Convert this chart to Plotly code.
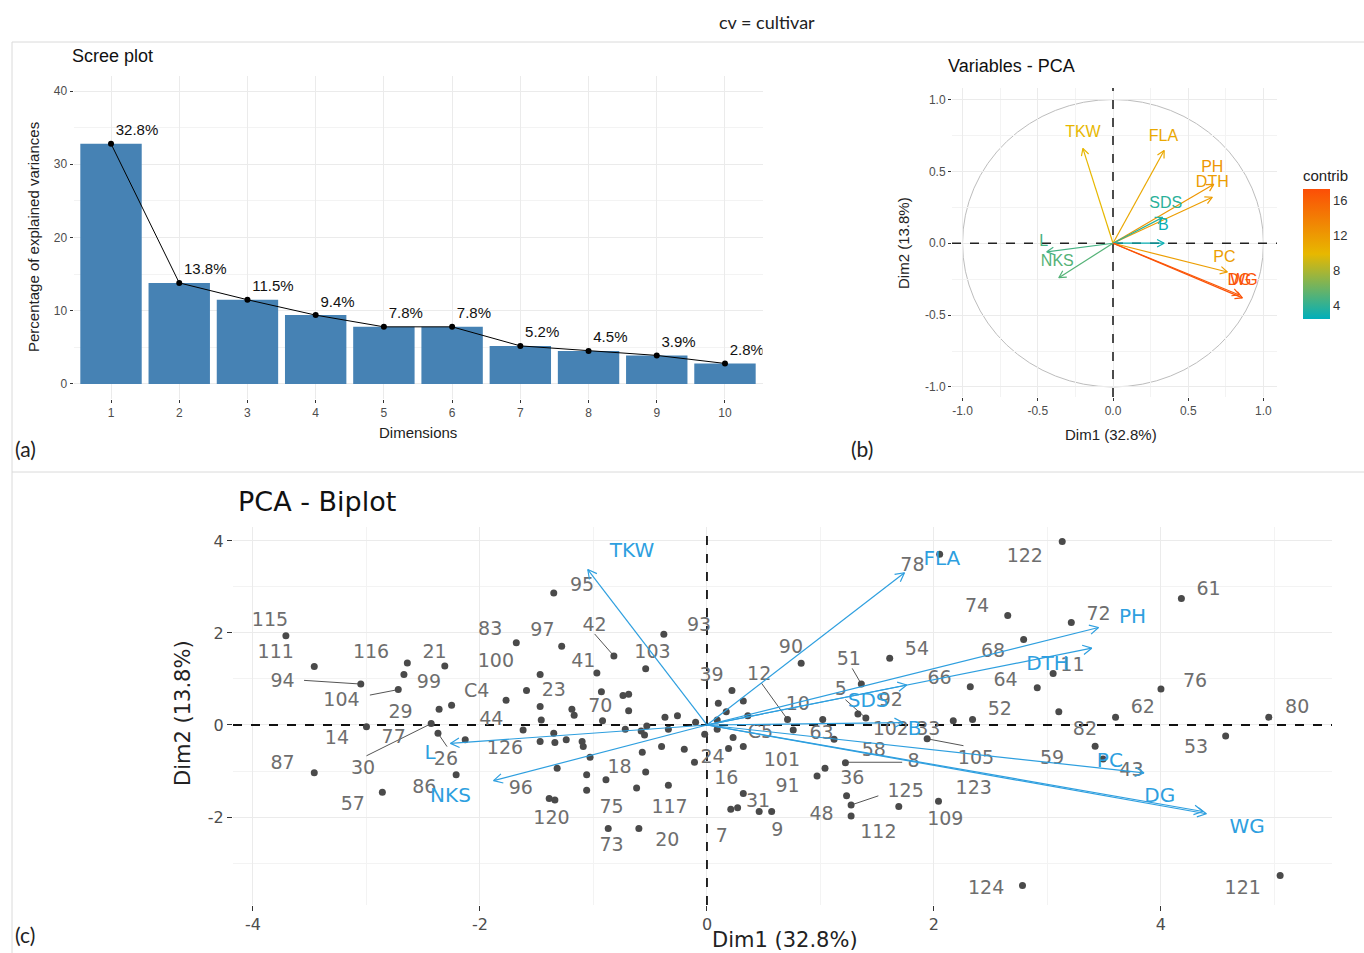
import math
import plotly.graph_objects as go
from plotly.colors import sample_colorscale

# ---------------- data ----------------
scree_dims = [1, 2, 3, 4, 5, 6, 7, 8, 9, 10]
scree_vals = [32.8, 13.8, 11.5, 9.4, 7.8, 7.8, 5.2, 4.5, 3.9, 2.8]

var_names = ["TKW", "FLA", "PH", "DTH", "SDS", "B", "L", "NKS", "PC", "DG", "WG"]
var_x = [-0.20, 0.34, 0.67, 0.66, 0.33, 0.34, -0.44, -0.36, 0.76, 0.84, 0.86]
var_y = [0.66, 0.645, 0.41, 0.32, 0.18, 0.0, -0.06, -0.24, -0.20, -0.36, -0.38]
var_contrib = [10.0, 11.0, 12.3, 11.8, 3.8, 2.8, 4.7, 5.2, 11.7, 16.5, 17.0]
var_lab_x = [-0.20, 0.335, 0.66, 0.66, 0.35, 0.335, -0.46, -0.37, 0.74, 0.84, 0.87]
var_lab_y = [0.77, 0.74, 0.52, 0.42, 0.27, 0.12, 0.01, -0.13, -0.10, -0.26, -0.26]

bi_var_x = [-1.05, 1.74, 3.45, 3.39, 1.76, 1.73, -2.26, -1.88, 3.85, 4.37, 4.40]
bi_var_y = [3.38, 3.31, 2.12, 1.67, 0.87, 0.05, -0.40, -1.21, -1.04, -1.88, -1.93]
bi_var_lab_x = [-0.66, 2.07, 3.75, 3.00, 1.42, 1.83, -2.44, -2.26, 3.55, 3.99, 4.76]
bi_var_lab_y = [3.76, 3.59, 2.33, 1.30, 0.50, -0.11, -0.62, -1.57, -0.80, -1.57, -2.24]

ind_x = [-3.71, -3.46, -3.05, -2.64, -2.31, -2.67, -2.72, -2.36, -2.25, -1.77,
         -1.68, -1.28, -1.35, -0.82, -0.54, -0.38, -1.47, -0.97, -1.59, -1.47,
         -0.93, -1.19, -1.17, -0.92, -0.74, -0.69, -0.69, -1.46, -0.37, -0.26,
         -0.10, -0.53, -0.72, -3.00, -2.43, -2.37, -2.13, -3.46, -2.86, -2.21,
         -1.62, -1.47, -1.35, -1.34, -1.24, -1.10, -1.09, -1.03, -1.32, -1.06,
         -0.89, -1.06, -1.39, -1.34, -0.62, -0.34, -0.54, -0.57, -0.40, -0.20,
         -0.11, -0.87, -0.60, -0.02, -0.34, -0.55, -0.58, 0.10, 0.22, 0.32,
         0.17, 0.09, 0.36, 0.09, 0.23, 0.19, 0.32, 0.83, 0.71, 0.76,
         1.02, 1.12, 1.22, 1.04, 0.97, 1.23, 1.27, 1.27, 1.36, 1.33,
         1.40, 1.61, 2.32, 2.17, 2.34, 1.94, 1.69, 2.04, 0.32, 0.21,
         0.27, 0.46, 0.57, 3.13, 2.05, 4.18, 2.65, 3.21, 2.79, 3.05,
         2.91, 4.00, 3.10, 3.60, 4.95, 4.57, 3.42, 3.49, 2.78, 5.05]
ind_y = [1.94, 1.27, 0.89, 1.35, 1.28, 1.10, 0.77, 0.34, 0.43, 0.54,
         1.79, 1.71, 2.87, 1.50, 1.22, 1.97, 1.10, 1.13, 0.75, 0.40,
         0.72, 0.34, 0.21, 0.09, 0.64, 0.67, 0.31, 0.11, 0.17, 0.20,
         0.06, -0.02, -0.09, -0.04, 0.03, -0.18, -0.32, -1.04, -1.46, -1.08,
         -0.11, -0.36, -0.18, -0.38, -0.32, -0.36, -0.47, -0.70, -0.94, -1.08,
         -1.19, -1.42, -1.60, -1.63, -1.37, -1.31, -1.02, -0.59, -0.47, -0.53,
         -0.81, -2.25, -2.25, -0.20, -0.09, -0.22, -0.13, 0.47, 0.75, 0.52,
         0.29, 0.11, 0.20, -0.09, -0.27, -0.51, -0.47, 1.34, 0.12, -0.11,
         0.12, -0.31, -0.82, -0.94, -1.11, -1.54, -1.74, -1.98, 0.89, 0.24,
         0.15, 1.45, 0.83, 0.09, 0.12, -0.30, -1.77, -1.66, -1.49, -1.83,
         -1.80, -1.88, -1.88, 3.99, 3.71, 2.75, 2.38, 2.23, 1.86, 1.12,
         0.81, 0.78, 0.29, 0.17, 0.17, -0.24, -0.46, -0.74, -3.49, -3.27]

ind_lab = ["115", "111", "94", "116", "21", "104", "99", "C4", "29", "44",
           "83", "97", "42", "95", "100", "41", "23", "70", "103", "93",
           "39", "14", "77", "87", "30", "26", "126", "86", "57", "96",
           "120", "18", "75", "117", "73", "20", "24", "16", "7", "C5",
           "63", "101", "91", "31", "9", "48", "58", "8", "36", "125",
           "112", "123", "109", "105", "59", "43", "82", "53", "124", "121",
           "102", "33", "78", "122", "61", "74", "72", "68", "54", "90",
           "51", "11", "66", "64", "76", "52", "62", "80", "12", "10",
           "5", "92"]
ind_lab_x = [-3.85, -3.80, -3.74, -2.96, -2.40, -3.22, -2.45, -2.03, -2.70, -1.90,
             -1.91, -1.45, -0.99, -1.10, -1.86, -1.09, -1.35, -0.94, -0.48, -0.07,
             0.04, -3.26, -2.76, -3.74, -3.03, -2.30, -1.78, -2.49, -3.12, -1.64,
             -1.37, -0.77, -0.84, -0.33, -0.84, -0.35, 0.05, 0.17, 0.13, 0.47,
             1.01, 0.66, 0.71, 0.45, 0.62, 1.01, 1.47, 1.82, 1.28, 1.75,
             1.51, 2.35, 2.10, 2.37, 3.04, 3.74, 3.33, 4.31, 2.46, 4.72,
             1.62, 1.95, 1.81, 2.80, 4.42, 2.38, 3.45, 2.52, 1.85, 0.74,
             1.25, 3.22, 2.05, 2.63, 4.30, 2.58, 3.84, 5.20, 0.46, 0.80,
             1.18, 1.62]
ind_lab_y = [2.26, 1.56, 0.93, 1.57, 1.57, 0.51, 0.90, 0.72, 0.25, 0.11,
             2.06, 2.03, 2.15, 3.02, 1.37, 1.37, 0.74, 0.38, 1.56, 2.15,
             1.06, -0.32, -0.29, -0.86, -0.96, -0.76, -0.53, -1.37, -1.75, -1.40,
             -2.04, -0.94, -1.82, -1.82, -2.63, -2.52, -0.72, -1.19, -2.45, -0.18,
             -0.21, -0.79, -1.36, -1.68, -2.32, -1.96, -0.57, -0.82, -1.19, -1.46,
             -2.36, -1.39, -2.07, -0.74, -0.74, -1.00, -0.11, -0.50, -3.57, -3.57,
             -0.11, -0.11, 3.46, 3.64, 2.93, 2.56, 2.39, 1.59, 1.63, 1.67,
             1.41, 1.27, 0.99, 0.96, 0.94, 0.31, 0.36, 0.36, 1.09, 0.43,
             0.76, 0.51]

seg_x0 = [-3.55, -2.97, -0.99, -3.00, -2.29, 0.48, 1.28, 1.22, 1.23, 1.27, 1.94]
seg_y0 = [0.97, 0.65, 1.98, -0.67, -0.47, 0.91, 1.23, 0.55, -0.81, -1.74, -0.30]
seg_x1 = [-3.05, -2.72, -0.82, -2.43, -2.37, 0.71, 1.36, 1.40, 1.72, 1.51, 2.26]
seg_y1 = [0.89, 0.77, 1.50, 0.03, -0.18, 0.12, 0.89, 0.15, -0.81, -1.54, -0.45]

# ---------------- layout constants ----------------
W, H = 1364, 953
def px(x):
    return x / W
def py(y):
    return 1 - y / H

SCREE_DOM_X = [73.5, 762.5]
SCREE_DOM_Y = [76.4, 398.6]
VAR_DOM_X = [952, 1277]
VAR_DOM_Y = [88, 397]
BI_DOM_X = [233, 1332]
BI_DOM_Y = [527, 905]
VAR_RX = [-1.07, 1.09]
VAR_RY = [-1.07, 1.08]
BI_RX = [-4.176, 5.507]
BI_RY = [-3.913, 4.304]

CSCALE = [[0, "#00AFBB"], [0.5, "#E7B800"], [1, "#FC4E07"]]
CMIN, CMAX = 2.5, 17.3

GRID = "#EBEBEB"
MINOR = "#F3F3F3"
TICKC = "#4D4D4D"
ARIAL = "Liberation Sans, Arial, sans-serif"
DEJA = "DejaVu Sans, sans-serif"


def arrow_path(x0, y0, x1, y1, sx, sy, L, ang_deg):
    dx = (x1 - x0) * sx
    dy = (y1 - y0) * sy
    n = math.hypot(dx, dy)
    ux, uy = dx / n, dy / n
    a = math.radians(ang_deg)
    xs = [x0, x1, None]
    ys = [y0, y1, None]
    hx, hy = [], []
    for s in (1, -1):
        rx = ux * math.cos(s * a) - uy * math.sin(s * a)
        ry = ux * math.sin(s * a) + uy * math.cos(s * a)
        hx.append(x1 - L * rx / sx)
        hy.append(y1 - L * ry / sy)
    xs += [hx[0], x1, hx[1], None]
    ys += [hy[0], y1, hy[1], None]
    return xs, ys


def dashed_axes(rx, ry, xa, ya, color, width):
    return go.Scatter(x=[rx[0], rx[1], None, 0, 0], y=[0, 0, None, ry[0], ry[1]],
                      mode="lines", line=dict(color=color, width=width, dash="dash"),
                      xaxis=xa, yaxis=ya, hoverinfo="skip")


fig = go.Figure()

# ---------------- (a) scree plot ----------------
fig.add_trace(go.Bar(x=scree_dims, y=scree_vals, width=0.9,
                     marker=dict(color="#4682B4", line=dict(width=0)),
                     xaxis="x", yaxis="y", hoverinfo="skip"))
fig.add_trace(go.Scatter(x=scree_dims, y=scree_vals, mode="lines+markers+text",
                         line=dict(color="black", width=1),
                         marker=dict(color="black", size=6),
                         text=[f"{v:.1f}%" for v in scree_vals],
                         textposition="top right",
                         textfont=dict(family=ARIAL, size=15, color="#111"),
                         xaxis="x", yaxis="y", hoverinfo="skip"))

# ---------------- (b) variables PCA ----------------
fig.add_trace(dashed_axes(VAR_RX, VAR_RY, "x2", "y2", "#222", 1.6))
var_cols = sample_colorscale(CSCALE, [(c - CMIN) / (CMAX - CMIN) for c in var_contrib])
vsx = (VAR_DOM_X[1] - VAR_DOM_X[0]) / (VAR_RX[1] - VAR_RX[0])
vsy = (VAR_DOM_Y[1] - VAR_DOM_Y[0]) / (VAR_RY[1] - VAR_RY[0])
for i in range(len(var_names)):
    xs, ys = arrow_path(0, 0, var_x[i], var_y[i], vsx, vsy, 8, 28)
    fig.add_trace(go.Scatter(x=xs, y=ys, mode="lines",
                             line=dict(color=var_cols[i], width=1.2),
                             xaxis="x2", yaxis="y2", hoverinfo="skip"))
fig.add_trace(go.Scatter(x=var_lab_x, y=var_lab_y, mode="text", text=var_names,
                         textfont=dict(family=ARIAL, size=16, color=var_cols),
                         xaxis="x2", yaxis="y2", hoverinfo="skip"))
# colourbar carrier
fig.add_trace(go.Scatter(x=[0], y=[0], mode="markers",
                         marker=dict(size=0.1, color=[CMIN], cmin=CMIN, cmax=CMAX,
                                     colorscale=CSCALE, showscale=True,
                                     colorbar=dict(
                                         title=dict(text="contrib", side="top",
                                                    font=dict(family=ARIAL, size=15, color="#222")),
                                         x=px(1303), xanchor="left",
                                         y=py(243), yanchor="middle",
                                         len=152 / H, lenmode="fraction",
                                         thickness=27, outlinewidth=0, xpad=0, ypad=0,
                                         tickvals=[4, 8, 12, 16],
                                         ticks="", ticklabelposition="outside",
                                         tickfont=dict(family=ARIAL, size=13, color="#333"))),
                         xaxis="x2", yaxis="y2", hoverinfo="skip"))

# ---------------- (c) biplot ----------------
fig.add_trace(dashed_axes(BI_RX, BI_RY, "x3", "y3", "#111", 1.8))
bsx = (BI_DOM_X[1] - BI_DOM_X[0]) / (BI_RX[1] - BI_RX[0])
bsy = (BI_DOM_Y[1] - BI_DOM_Y[0]) / (BI_RY[1] - BI_RY[0])
sx_all, sy_all = [], []
for i in range(len(seg_x0)):
    sx_all += [seg_x0[i], seg_x1[i], None]
    sy_all += [seg_y0[i], seg_y1[i], None]
fig.add_trace(go.Scatter(x=sx_all, y=sy_all, mode="lines",
                         line=dict(color="#555555", width=1),
                         xaxis="x3", yaxis="y3", hoverinfo="skip"))
fig.add_trace(go.Scatter(x=ind_x, y=ind_y, mode="markers",
                         marker=dict(color="#4a4a4a", size=7),
                         xaxis="x3", yaxis="y3", hoverinfo="skip"))
fig.add_trace(go.Scatter(x=ind_lab_x, y=ind_lab_y, mode="text", text=ind_lab,
                         textfont=dict(family=DEJA, size=19, color="#6e6e6e"),
                         xaxis="x3", yaxis="y3", hoverinfo="skip"))
ax_all, ay_all = [], []
for i in range(len(var_names)):
    xs, ys = arrow_path(0, 0, bi_var_x[i], bi_var_y[i], bsx, bsy, 10, 28)
    ax_all += xs
    ay_all += ys
fig.add_trace(go.Scatter(x=ax_all, y=ay_all, mode="lines",
                         line=dict(color="#2E9FDF", width=1.2),
                         xaxis="x3", yaxis="y3", hoverinfo="skip"))
fig.add_trace(go.Scatter(x=bi_var_lab_x, y=bi_var_lab_y, mode="text", text=var_names,
                         textfont=dict(family=DEJA, size=20, color="#2E9FDF"),
                         xaxis="x3", yaxis="y3", hoverinfo="skip"))

# ---------------- axes ----------------
def dom_x(d):
    return [px(d[0]), px(d[1])]
def dom_y(d):
    return [py(d[1]), py(d[0])]

common = dict(showline=False, zeroline=False, ticks="outside", ticklen=3,
              tickcolor="#333", tickwidth=1, gridcolor=GRID, gridwidth=1)

bi_xt = [-4, -2, 0, 2, 4]
bi_yt = [-2, 0, 2, 4]
var_t = [-1, -0.5, 0, 0.5, 1]

fig.update_layout(
    width=W, height=H, autosize=False,
    margin=dict(l=0, r=0, t=0, b=0),
    paper_bgcolor="white", plot_bgcolor="white",
    showlegend=False, hovermode=False,
    xaxis=dict(domain=dom_x(SCREE_DOM_X), range=[0.45, 10.55], anchor="y",
               tickvals=scree_dims, tickfont=dict(family=ARIAL, size=12, color=TICKC),
               **common),
    yaxis=dict(domain=dom_y(SCREE_DOM_Y), range=[-2, 42], anchor="x",
               tickvals=[0, 10, 20, 30, 40], tickfont=dict(family=ARIAL, size=12, color=TICKC),
               minor=dict(dtick=5, tick0=0, showgrid=True, gridcolor=MINOR, ticks=""),
               **common),
    xaxis2=dict(domain=dom_x(VAR_DOM_X), range=VAR_RX, anchor="y2",
                tickvals=var_t, ticktext=[f"{v:.1f}" for v in var_t],
                tickfont=dict(family=ARIAL, size=12, color=TICKC),
                minor=dict(dtick=0.25, tick0=0, showgrid=True, gridcolor=MINOR, ticks=""),
                **common),
    yaxis2=dict(domain=dom_y(VAR_DOM_Y), range=VAR_RY, anchor="x2",
                tickvals=var_t, ticktext=[f"{v:.1f}" for v in var_t],
                tickfont=dict(family=ARIAL, size=12, color=TICKC),
                minor=dict(dtick=0.25, tick0=0, showgrid=True, gridcolor=MINOR, ticks=""),
                **common),
    xaxis3=dict(domain=dom_x(BI_DOM_X), range=BI_RX, anchor="y3",
                tickvals=bi_xt, ticktext=[str(v) for v in bi_xt],
                tickfont=dict(family=DEJA, size=16, color=TICKC),
                minor=dict(dtick=1, tick0=0, showgrid=True, gridcolor=MINOR, ticks=""),
                **{**common, "ticklen": 5}),
    yaxis3=dict(domain=dom_y(BI_DOM_Y), range=BI_RY, anchor="x3",
                tickvals=bi_yt, ticktext=[str(v) for v in bi_yt],
                tickfont=dict(family=DEJA, size=16, color=TICKC),
                minor=dict(dtick=1, tick0=0, showgrid=True, gridcolor=MINOR, ticks=""),
                **{**common, "ticklen": 5}),
)

shapes = [
    dict(type="line", xref="paper", yref="paper", x0=px(12), x1=1, y0=py(42), y1=py(42),
         line=dict(color="#DADADA", width=1)),
    dict(type="line", xref="paper", yref="paper", x0=px(12), x1=1, y0=py(472), y1=py(472),
         line=dict(color="#DADADA", width=1)),
    dict(type="line", xref="paper", yref="paper", x0=px(12), x1=px(12), y0=py(42), y1=0,
         line=dict(color="#DADADA", width=1)),
    dict(type="circle", xref="x2", yref="y2", x0=-1, y0=-1, x1=1, y1=1,
         line=dict(color="#BDBDBD", width=1), layer="below"),
]
fig.update_layout(shapes=shapes)

LATO = "Lato, Open Sans, sans-serif"
ann = [
    dict(text="cv = cultivar", x=px(767), y=py(22), font=dict(family=LATO, size=18, color="#222")),
    dict(text="Scree plot", x=px(70), y=py(56), xanchor="left", font=dict(family=ARIAL, size=18, color="#111")),
    dict(text="Percentage of explained variances", x=px(33), y=py(237), textangle=-90,
         font=dict(family=ARIAL, size=15, color="#222")),
    dict(text="Dimensions", x=px(418), y=py(432), font=dict(family=ARIAL, size=15, color="#222")),
    dict(text="(a)", x=px(25), y=py(448), font=dict(family=LATO, size=21, color="#222")),
    dict(text="(b)", x=px(862), y=py(448), font=dict(family=LATO, size=21, color="#222")),
    dict(text="(c)", x=px(25), y=py(934), font=dict(family=LATO, size=21, color="#222")),
    dict(text="Variables - PCA", x=px(946), y=py(66), xanchor="left", font=dict(family=ARIAL, size=18, color="#111")),
    dict(text="Dim1 (32.8%)", x=px(1111), y=py(434), font=dict(family=ARIAL, size=15, color="#222")),
    dict(text="Dim2 (13.8%)", x=px(903), y=py(243), textangle=-90, font=dict(family=ARIAL, size=15, color="#222")),
    dict(text="PCA - Biplot", x=px(236), y=py(502), xanchor="left", font=dict(family=DEJA, size=27, color="#111")),
    dict(text="Dim1 (32.8%)", x=px(785), y=py(940), font=dict(family=DEJA, size=21, color="#222")),
    dict(text="Dim2 (13.8%)", x=px(183), y=py(713), textangle=-90, font=dict(family=DEJA, size=21, color="#222")),
]
for a in ann:
    a.update(xref="paper", yref="paper", showarrow=False)
    a.setdefault("xanchor", "center")
    a.setdefault("yanchor", "middle")
fig.update_layout(annotations=ann)

fig.write_html("out.html", config={"displayModeBar": False},
               post_script="document.body.style.margin='0';document.body.style.overflow='hidden';")
